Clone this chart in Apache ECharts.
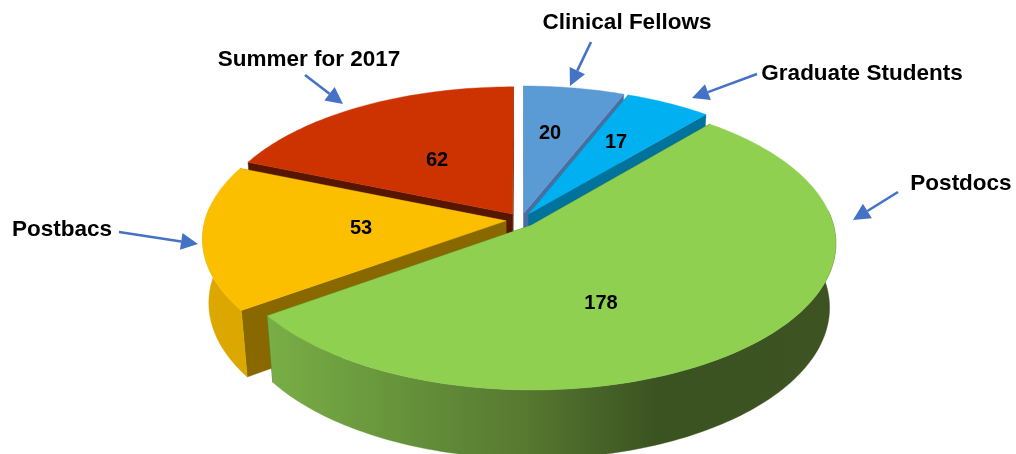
<html>
  <head>
    <meta charset="utf-8" />
    <title>Summer for 2017</title>
    <style>
      html, body { margin: 0; padding: 0; background: #ffffff; overflow: hidden; }
    </style>
  </head>
  <body>
    <div id="main" style="width: 1016px; height: 454px"></div>
    <script src="https://cdn.jsdelivr.net/npm/echarts@6/dist/echarts.min.js"></script>
    <script type="text/javascript">
      // chart values
      var categories = ["Clinical Fellows", "Graduate Students", "Postdocs", "Postbacs", "Summer for 2017"];
      var values = [20, 17, 178, 53, 62];

      // slice colours: top face, radial wall
      var topColors = ["#5b9bd5", "#00b0f0", "#8fd050", "#fcbf00", "#cc3300"];
      var wallColors = ["#4a6e9e", "#00739c", "#3d5322", "#8a6800", "#571600"];

      // back slices first, so the front ones cover them
      var drawOrder = [0, 1, 4, 3, 2];

      // pie geometry (px on the page)
      var cx = 521, cy = 220, radiusX = 301, radiusY = 143.7, depth = 65;
      var perspective = 0.119, depthShrink = 0.02, explode = 0.05;
      // outer side only shows on the front part of the rim
      var sideFrom = 1.47, sideTo = 4.81;

      // text and arrow layout
      var fontName = '"Liberation Sans", Arial, sans-serif';
      var valueLabelPos = [[550, 133], [616, 142], [601, 303], [361, 228], [437, 160]];
      var nameLabelPos = [[627, 23], [862, 74], [961, 184], [62, 230], [309, 60]];
      var arrows = [
        [[591, 42], [570, 86]],
        [[757, 74], [692, 98]],
        [[898, 192], [853, 220]],
        [[119, 232], [198, 244]],
        [[305, 75], [343, 104]]
      ];

      var total = 0;
      values.forEach(function (v) { total += v; });
      var slices = [];
      var acc = 0;
      values.forEach(function (v) {
        slices.push({ start: (acc / total) * Math.PI * 2, end: ((acc + v) / total) * Math.PI * 2 });
        acc += v;
      });

      // disc point (u right, v towards viewer) at height z (0 top, 1 bottom) to page px
      function project(u, v, z) {
        var w = 1 / (1 - perspective * v + depthShrink * z);
        return [cx + radiusX * u * w, cy + (radiusY * v + depth * z) * w];
      }

      function discPoint(index, angle, r, z) {
        var s = slices[index];
        var mid = (s.start + s.end) / 2;
        return project(
          explode * Math.sin(mid) + r * Math.sin(angle),
          -explode * Math.cos(mid) - r * Math.cos(angle),
          z
        );
      }

      function arcPoints(index, from, to, z) {
        var steps = Math.max(4, Math.ceil((to - from) / 0.02));
        var pts = [];
        for (let k = 0; k <= steps; k++) {
          pts.push(discPoint(index, from + ((to - from) * k) / steps, 1, z));
        }
        return pts;
      }

      function poly(points, fill) {
        return {
          type: "polygon",
          shape: { points: points },
          style: { fill: fill, stroke: fill, lineWidth: 0.4 }
        };
      }

      function wall(index, angle) {
        return poly(
          [
            discPoint(index, angle, 0, 0),
            discPoint(index, angle, 1, 0),
            discPoint(index, angle, 1, 1),
            discPoint(index, angle, 0, 1)
          ],
          wallColors[index]
        );
      }

      var greenSide = new echarts.graphic.LinearGradient(
        270, 0, 840, 0,
        [
          { offset: 0, color: "#78ae46" },
          { offset: 0.45, color: "#567830" },
          { offset: 0.68, color: "#3b5221" },
          { offset: 1, color: "#3d5322" }
        ],
        true
      );
      var sideFills = [null, null, greenSide, "#dca800", null];

      function renderSlice(params, api) {
        var index = drawOrder[params.dataIndex];
        var s = slices[index];
        var children = [wall(index, s.end), wall(index, s.start)];
        var from = Math.max(s.start, sideFrom);
        var to = Math.min(s.end, sideTo);
        if (sideFills[index] && to > from) {
          children.push(
            poly(
              arcPoints(index, from, to, 0).concat(arcPoints(index, from, to, 1).reverse()),
              sideFills[index]
            )
          );
        }
        children.push(
          poly([discPoint(index, s.start, 0, 0)].concat(arcPoints(index, s.start, s.end, 0)), topColors[index])
        );
        children.push({
          type: "text",
          z2: 10,
          style: {
            text: String(api.value(0)),
            x: valueLabelPos[index][0],
            y: valueLabelPos[index][1],
            fill: "#000000",
            font: "bold 20px " + fontName,
            align: "center",
            verticalAlign: "middle"
          }
        });
        return { type: "group", children: children };
      }

      function arrowGraphics() {
        var out = [];
        arrows.forEach(function (a) {
          var dx = a[1][0] - a[0][0];
          var dy = a[1][1] - a[0][1];
          var len = Math.sqrt(dx * dx + dy * dy);
          var ux = dx / len, uy = dy / len;
          var bx = a[1][0] - ux * 17, by = a[1][1] - uy * 17;
          out.push({
            type: "line",
            shape: { x1: a[0][0], y1: a[0][1], x2: bx, y2: by },
            style: { stroke: "#4472c4", lineWidth: 2.6 }
          });
          out.push({
            type: "polygon",
            shape: {
              points: [a[1], [bx - uy * 8.5, by + ux * 8.5], [bx + uy * 8.5, by - ux * 8.5]]
            },
            style: { fill: "#4472c4" }
          });
        });
        return out;
      }

      function nameGraphics() {
        return categories.map(function (name, i) {
          return {
            type: "text",
            style: {
              text: name,
              x: nameLabelPos[i][0],
              y: nameLabelPos[i][1],
              fill: "#000000",
              font: "bold 22.5px " + fontName,
              align: "center",
              verticalAlign: "middle"
            }
          };
        });
      }

      var chart = echarts.init(document.getElementById("main"));
      chart.setOption({
        animation: false,
        backgroundColor: "#ffffff",
        graphic: { elements: arrowGraphics().concat(nameGraphics()) },
        series: [
          {
            type: "custom",
            coordinateSystem: "none",
            renderItem: renderSlice,
            silent: true,
            data: drawOrder.map(function (i) { return [values[i]]; })
          }
        ]
      });
    </script>
  </body>
</html>
